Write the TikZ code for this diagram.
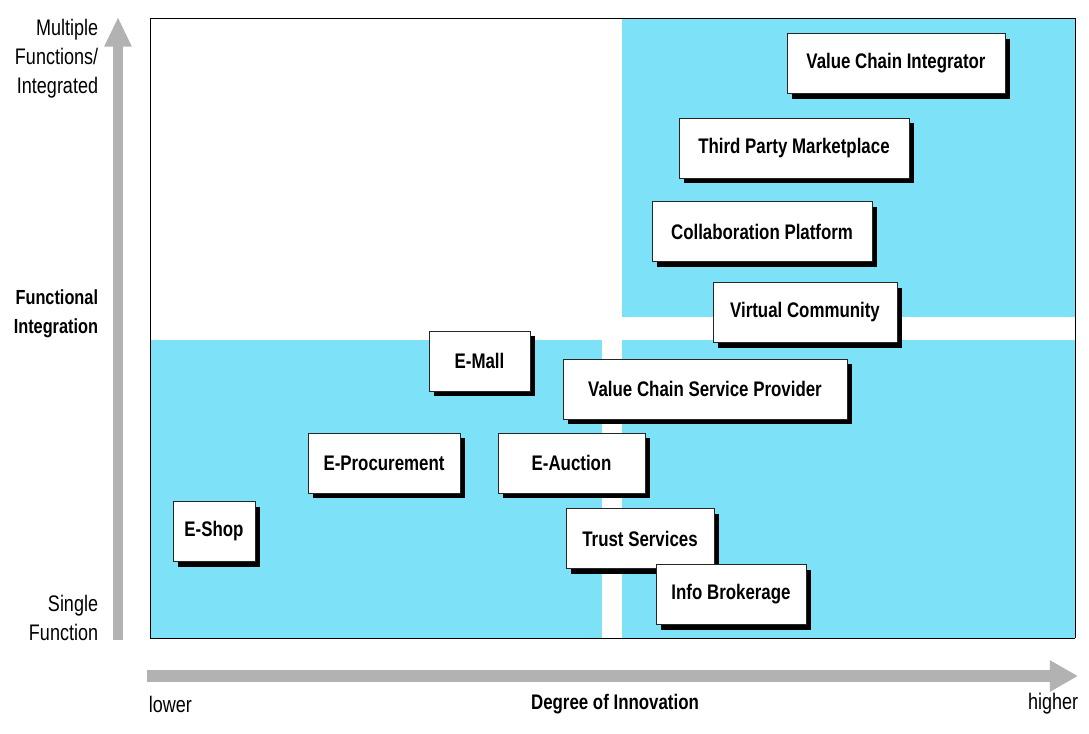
\documentclass[tikz,border=0pt]{standalone}
\usepackage{fontspec}
\setmainfont{Liberation Sans}[FakeStretch=0.8]
\usetikzlibrary{shadows,arrows.meta}
\definecolor{quadcyan}{RGB}{125,226,247}
\definecolor{axisgray}{RGB}{178,178,178}

\begin{document}
\begin{tikzpicture}[x=0.025cm, y=-0.025cm,
		model/.style={draw=black!85, line width=0.6pt, fill=white, minimum height=1.5cm,
			font=\fontsize{15}{18}\selectfont\bfseries,
			drop shadow={fill=black, opacity=1, shadow xshift=3.6pt, shadow yshift=-3.6pt}},
		sidelbl/.style={anchor=east, align=right, font=\fontsize{16}{20.5}\selectfont},
		axisarrow/.style={draw=axisgray, line width=#1}]
				
				\useasboundingbox (0,0) rectangle (1089,733);
				
				% quadrants
				\fill[quadcyan] (622,18) rectangle (1075,317);
				\fill[quadcyan] (150,340) rectangle (602,638);
				\fill[quadcyan] (622,340) rectangle (1075,638);
				\draw[-,thin] (150,18)--(1075,18);
				\draw[-,thin] (1075,18)--(1075,638);
				\draw[-,thin] (1075,638)--(150,638);
				\draw[-,thin] (150,638)--(150,18);
				
				% axes
				\coordinate (yStart) at (118,640);
				\coordinate (yEnd) at (118,17);
				\draw[axisarrow=7pt, -{Triangle[length=21pt, width=18pt]}] (yStart) -- (yEnd);
				\coordinate (xStart) at (147,676);
				\coordinate (xEnd) at (1078,676);
				\draw[axisarrow=8.5pt, -{Triangle[length=20pt, width=21pt]}] (xStart) -- (xEnd);
				
				\node[sidelbl] (lblMulti) at (103,59) {Multiple\\Functions/\\Integrated};
				\node[sidelbl, font=\fontsize{14.5}{20.5}\selectfont\bfseries] (lblFunc) at (103,314) {Functional\\Integration};
				\node[sidelbl] (lblSingle) at (103,618) {Single\\Function};
				
				\node[anchor=west, font=\fontsize{16}{20}\selectfont] (lblLow) at (144,704) {lower};
				\node[font=\fontsize{15}{18}\selectfont\bfseries] (lblInno) at (615,704) {Degree of Innovation};
				\node[anchor=east, font=\fontsize{16}{20}\selectfont] (lblHigh) at (1083,704) {higher};
				
				% business models
				\node[model, minimum width=5.45cm] (VCI) at (896,63.5) {Value Chain Integrator};
				\node[model, minimum width=5.75cm] (TPM) at (794,148) {Third Party Marketplace};
				\node[model, minimum width=5.5cm] (Collab) at (762,231.5) {Collaboration Platform};
				\node[model, minimum width=4.6cm] (VirtCom) at (805,312.5) {Virtual Community};
				\node[model, minimum width=2.525cm] (EMall) at (479.5,361) {E-Mall};
				\node[model, minimum width=7.1cm] (VCSP) at (705,389) {Value Chain Service Provider};
				\node[model, minimum width=3.8cm] (EProc) at (384,463) {E-Procurement};
				\node[model, minimum width=3.675cm] (EAuction) at (571.5,463) {E-Auction};
				\node[model, minimum width=2.05cm] (EShop) at (214,531.5) {E-Shop};
				\node[model, minimum width=3.7cm] (Trust) at (640,538.5) {Trust Services};
				\node[model, minimum width=3.75cm] (InfoBrok) at (731,594.5) {Info Brokerage};
				
			\end{tikzpicture}
\end{document}
